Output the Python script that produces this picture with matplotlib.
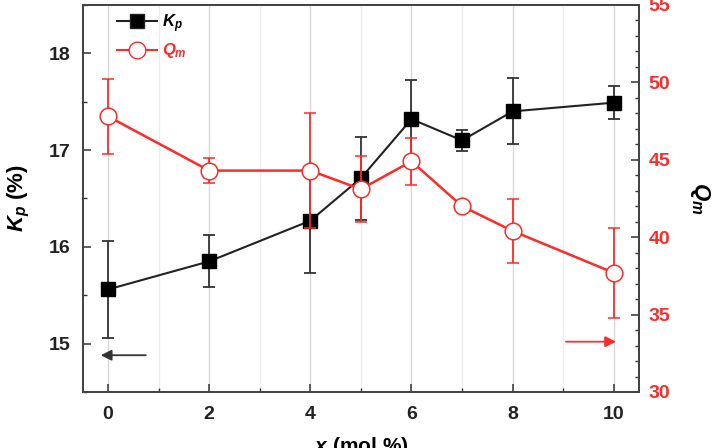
import matplotlib
matplotlib.use('Agg')
import matplotlib.pyplot as plt
from matplotlib.lines import Line2D
from matplotlib.ticker import MultipleLocator

plt.rcParams['font.family'] = 'Liberation Sans'
plt.rcParams['font.weight'] = 'bold'
plt.rcParams['mathtext.fontset'] = 'custom'
plt.rcParams['mathtext.it'] = 'Liberation Sans:italic:bold'
plt.rcParams['mathtext.rm'] = 'Liberation Sans:bold'

# data
x = [0, 2, 4, 5, 6, 7, 8, 10]
kp = [15.56, 15.85, 16.27, 16.71, 17.32, 17.10, 17.40, 17.49]
kp_err = [0.50, 0.27, 0.54, 0.43, 0.40, 0.11, 0.34, 0.17]
qm = [47.8, 44.3, 44.3, 43.1, 44.9, 42.0, 40.4, 37.7]
qm_err = [2.4, 0.8, 3.7, 2.15, 1.5, 0.3, 2.05, 2.9]

red = '#ff2a2a'
dark = '#222222'

fig = plt.figure(figsize=(7.2, 4.48), dpi=100)
ax = fig.add_axes([0.115, 0.125, 0.7725, 0.864])
ax2 = ax.twinx()

# vertical grid lines
ax.set_axisbelow(True)
ax.xaxis.set_major_locator(MultipleLocator(2))
ax.xaxis.set_minor_locator(MultipleLocator(1))
ax.grid(True, axis='x', which='major', color='#d8d8d8', lw=1.0)
ax.grid(True, axis='x', which='minor', color='#ececec', lw=1.0)

ax.errorbar(x, kp, yerr=kp_err, color=dark, ecolor='#333333', marker='s', ms=9.5,
            mfc='black', mec='black', lw=1.5, elinewidth=1.3, capsize=4, capthick=1.3)
ax2.errorbar(x, qm, yerr=qm_err, color=red, ecolor=red, marker='o', ms=12,
             mfc='white', mec=red, mew=1.1, lw=1.8, elinewidth=1.3, capsize=4, capthick=1.3)
ax2.plot(x, qm, ls='none', marker='_', ms=10, mew=1.0, color=red)

ax.annotate('', xy=(-0.2, 14.88), xytext=(0.8, 14.88),
            arrowprops=dict(arrowstyle='-|>', color='#333333', lw=1.3, mutation_scale=16))
ax2.annotate('', xy=(10.1, 33.25), xytext=(9.0, 33.25),
             arrowprops=dict(arrowstyle='-|>', color=red, lw=1.3, mutation_scale=16))

ax.set_xlim(-0.5, 10.5)
ax.set_ylim(14.5, 18.5)
ax2.set_ylim(30, 55)
ax.yaxis.set_major_locator(MultipleLocator(1))
ax.yaxis.set_minor_locator(MultipleLocator(0.5))
ax2.yaxis.set_major_locator(MultipleLocator(5))
ax2.yaxis.set_minor_locator(MultipleLocator(1))

for a in (ax, ax2):
    a.tick_params(which='major', direction='in', length=6, width=1.1, color='#333333')
    a.tick_params(which='minor', direction='in', length=3, width=1.0, color='#333333')
    for s in a.spines.values():
        s.set_color('#444444')
        s.set_linewidth(1.4)
ax.tick_params(axis='both', labelsize=14, labelcolor='#222222')
ax.tick_params(axis='x', pad=10)
ax.tick_params(axis='y', pad=9)
ax2.tick_params(axis='y', labelsize=14, labelcolor=red, pad=7)
ax2.tick_params(axis='y', which='both', left=False)

ax.set_xlabel(r'$x$ (mol %)', fontsize=15, fontweight='bold', labelpad=9)
ax.set_ylabel(r'$K_p$ (%)', fontsize=16, fontweight='bold', labelpad=12)
ax2.set_ylabel(r'$Q_m$', fontsize=16, fontweight='bold', rotation=270, labelpad=30)

handles = [Line2D([], [], color=dark, marker='s', ms=9.5, mfc='black', lw=1.5),
           Line2D([], [], color=red, marker='o', ms=12, mfc='white', mec=red, lw=1.5)]
leg = ax2.legend(handles, [r'$K_p$', r'$Q_m$'], loc='upper left', frameon=False,
                 fontsize=12, handlelength=2.4, handletextpad=0.3, labelspacing=0.4,
                 bbox_to_anchor=(0.035, 1.02))
leg.get_texts()[1].set_color(red)

fig.savefig('out.png', dpi=100)
